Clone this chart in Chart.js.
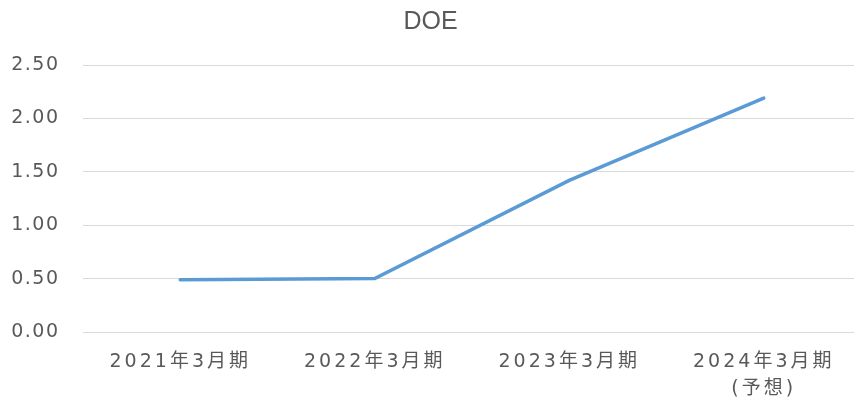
<!DOCTYPE html>
<html>
<head>
<meta charset="utf-8">
<script src="https://cdn.jsdelivr.net/npm/chart.js@4"></script>
<style>
  html, body { margin: 0; padding: 0; background: #fff; overflow: hidden; }
</style>
</head>
<body>
<canvas id="doeChart" width="866" height="401"></canvas>
<script>
const categories = ["2021年3月期", "2022年3月期", "2023年3月期", ["2024年3月期", "(予想)"]];
const doeValues = [0.49, 0.50, 1.42, 2.19];
const yTicks = [0, 0.5, 1, 1.5, 2, 2.5];

const textColor = "#595959";
const fontFamily = "'DejaVu Sans', 'Noto Sans CJK JP', sans-serif";

// tick labels in the original are drawn with wide letter spacing
class SpacedCategory extends Chart.CategoryScale {
  drawLabels(area) {
    this.ctx.letterSpacing = "3px";
    super.drawLabels(area);
    this.ctx.letterSpacing = "0px";
  }
}
SpacedCategory.id = "spacedCategory";
SpacedCategory.defaults = Chart.CategoryScale.defaults;

class SpacedLinear extends Chart.LinearScale {
  drawLabels(area) {
    this.ctx.letterSpacing = "1.5px";
    super.drawLabels(area);
    this.ctx.letterSpacing = "0px";
  }
}
SpacedLinear.id = "spacedLinear";
SpacedLinear.defaults = Chart.LinearScale.defaults;

Chart.register(SpacedCategory, SpacedLinear);

const ctx = document.getElementById("doeChart");
const doeChart = new Chart(ctx, {
  type: "line",
  data: {
    labels: categories,
    datasets: [
      {
        label: "DOE",
        data: doeValues,
        borderColor: "#5B9BD5",
        borderWidth: 3.5,
        borderCapStyle: "round",
        pointRadius: 0,
        tension: 0,
      },
    ],
  },
  options: {
    responsive: false,
    animation: false,
    devicePixelRatio: 1,
    layout: { padding: { left: 0, right: 5, top: 0, bottom: 0 } },
    plugins: {
      legend: { display: false },
      tooltip: { enabled: false },
      title: {
        display: true,
        text: "DOE",
        color: textColor,
        font: { family: "'Liberation Sans Narrow', 'Liberation Sans', sans-serif", size: 25, weight: "normal" },
        padding: { top: 7, bottom: 28 },
      },
    },
    scales: {
      x: {
        type: "spacedCategory",
        offset: true,
        grid: { display: false, drawTicks: false },
        border: { display: false },
        ticks: {
          color: textColor,
          font: { family: fontFamily, size: 19, lineHeight: 1.4 },
          padding: 17,
          maxRotation: 0,
          autoSkip: false,
        },
        afterFit(scale) { scale.height = 69; },
      },
      y: {
        type: "spacedLinear",
        min: 0,
        max: 2.5,
        afterBuildTicks(scale) { scale.ticks = yTicks.map(v => ({ value: v })); },
        grid: { color: "#d9d9d9", lineWidth: 1, drawTicks: false },
        border: { display: false },
        ticks: {
          color: textColor,
          font: { family: fontFamily, size: 19 },
          padding: 23.5,
          callback: v => v.toFixed(2),
        },
        afterFit(scale) { scale.width = 83; },
      },
    },
  },
});
</script>
</body>
</html>
